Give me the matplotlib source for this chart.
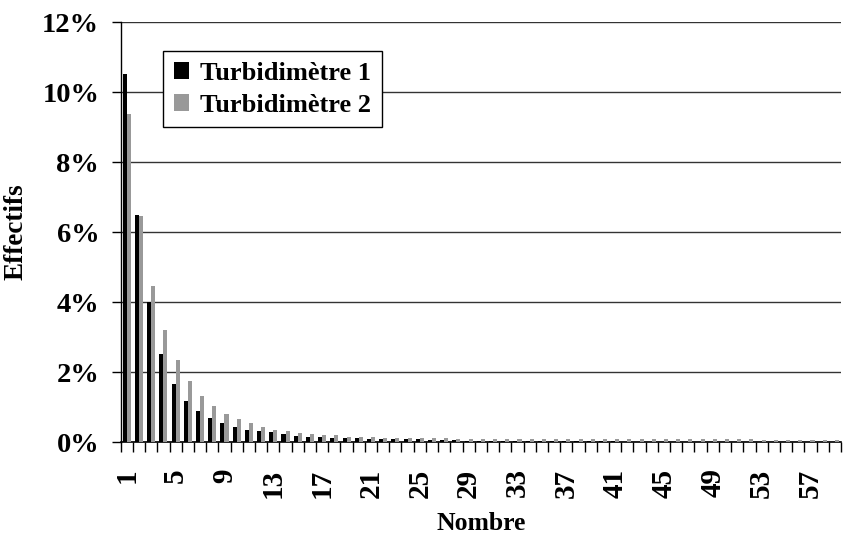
import numpy as np
import matplotlib.pyplot as plt
from matplotlib.ticker import FuncFormatter

# Effectifs (%) par nombre
nombre = list(range(1, 60))
turb1 = [10.52, 6.50, 4.00, 2.52, 1.67, 1.18, 0.88, 0.70, 0.54, 0.44,
         0.35, 0.31, 0.28, 0.23, 0.18, 0.15, 0.14, 0.12, 0.11, 0.11,
         0.08, 0.08, 0.08, 0.08, 0.08, 0.05, 0.05, 0.05, 0.04, 0.04,
         0.04, 0.04, 0.04, 0.04, 0.04, 0.04, 0.04, 0.04, 0.03, 0.03,
         0.02, 0.0, 0.0, 0.0, 0.0, 0.0, 0.0, 0.0, 0.0, 0.0,
         0.0, 0.0, 0.0, 0.0, 0.0, 0.0, 0.0, 0.0, 0.0]
turb2 = [9.38, 6.46, 4.47, 3.20, 2.33, 1.75, 1.32, 1.03, 0.81, 0.66,
         0.54, 0.43, 0.35, 0.31, 0.27, 0.23, 0.20, 0.19, 0.15, 0.15,
         0.15, 0.11, 0.11, 0.11, 0.11, 0.11, 0.11, 0.09, 0.09, 0.09,
         0.08, 0.08, 0.08, 0.08, 0.08, 0.08, 0.08, 0.08, 0.08, 0.08,
         0.08, 0.08, 0.08, 0.08, 0.08, 0.08, 0.08, 0.08, 0.09, 0.09,
         0.09, 0.09, 0.05, 0.05, 0.05, 0.05, 0.05, 0.05, 0.05]
labels = ['Turbidimètre 1', 'Turbidimètre 2']

plt.rcParams['font.family'] = 'Liberation Serif'
plt.rcParams['font.weight'] = 'bold'

fig = plt.figure(figsize=(8.43, 5.34), dpi=100)
ax = fig.add_axes([120.7/843, 1-442/534, (841-120.7)/843, (442-22)/534])

x = np.arange(len(nombre))
w = 0.33
ax.bar(x - w/2, turb1, w, color='black', label=labels[0], zorder=3)
ax.bar(x + w/2, turb2, w, color='#999999', label=labels[1], zorder=3)

ax.set_xlim(-0.5, len(nombre) - 0.5)
ax.set_ylim(0, 12)
ax.set_yticks(range(0, 13, 2))
ax.yaxis.set_major_formatter(FuncFormatter(lambda v, p: '%d%%' % v))
ax.yaxis.grid(True, color='#333333', linewidth=1)
ax.set_axisbelow(True)

ax.set_xticks(x[::4])
ax.set_xticklabels([str(n) for n in nombre[::4]], rotation=90, va='top')
ax.set_xticks(np.arange(-0.5, len(nombre)), minor=True)
ax.tick_params(axis='x', which='major', length=0, pad=19, labelsize=21)
ax.tick_params(axis='x', which='minor', length=7, width=1, direction='out')
ax.tick_params(axis='y', length=6.5, width=1, pad=9, labelsize=20.5)

for s in ['top', 'right']:
    ax.spines[s].set_visible(False)
ax.spines['left'].set_linewidth(1)
ax.spines['bottom'].set_linewidth(1.2)

ax.set_xlabel('Nombre', fontsize=18.5, fontweight='bold', labelpad=10)
ax.set_ylabel('Effectifs', fontsize=19.5, fontweight='bold', labelpad=10)

leg = ax.legend(loc='upper left', bbox_to_anchor=(163/843, 1-51/534),
                bbox_transform=fig.transFigure, borderaxespad=0,
                fancybox=False, framealpha=1, edgecolor='black',
                prop={'size': 19, 'weight': 'bold'},
                handlelength=0.6, handleheight=0.6, handletextpad=0.4,
                labelspacing=0.35, borderpad=0.4)
leg.get_frame().set_linewidth(1)

fig.savefig('out.png', dpi=100)
